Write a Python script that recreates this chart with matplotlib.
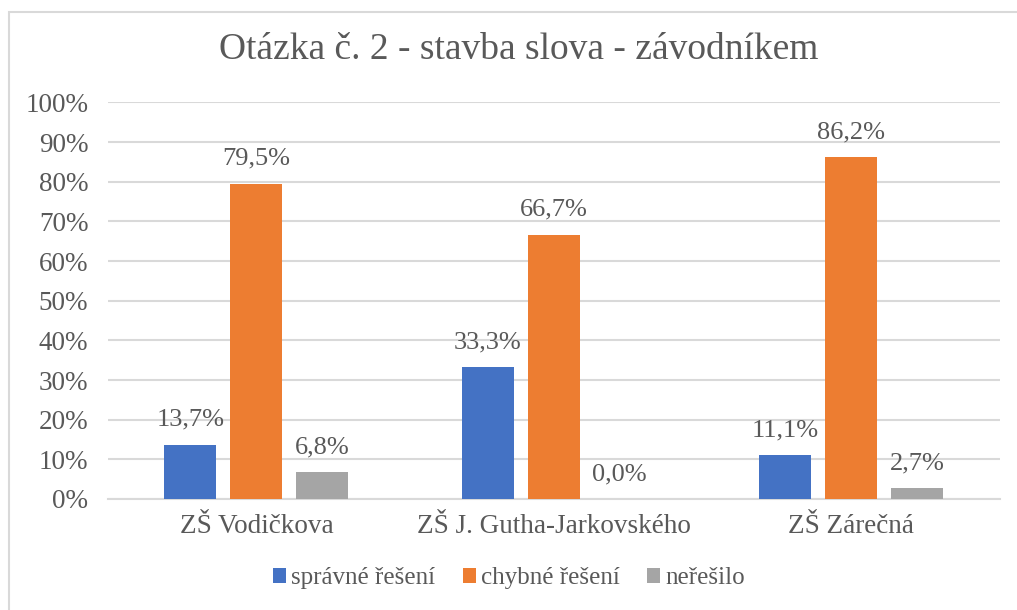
import matplotlib.pyplot as plt
import numpy as np
from matplotlib.patches import Rectangle

categories = ["ZŠ Vodičkova", "ZŠ J. Gutha-Jarkovského", "ZŠ Zárečná"]
series_names = ["správné řešení", "chybné řešení", "neřešilo"]
spravne = [13.7, 33.3, 11.1]
chybne = [79.5, 66.7, 86.2]
neresilo = [6.8, 0.0, 2.7]
colors = ["#4472C4", "#ED7D31", "#A5A5A5"]
yticks = [0, 10, 20, 30, 40, 50, 60, 70, 80, 90, 100]

plt.rcParams["font.family"] = ["Liberation Serif", "DejaVu Serif"]
TXT = "#595959"

fig = plt.figure(figsize=(10.17, 6.10), dpi=100)
ax = fig.add_axes([0.106, 0.182, 0.877, 0.650])

x = np.arange(len(categories))
width = 0.175
step = 0.222
for i, (name, vals, col) in enumerate(zip(series_names, [spravne, chybne, neresilo], colors)):
    pos = x + (i - 1) * step
    ax.bar(pos, vals, width=width, color=col, label=name, zorder=3)
    for px, v in zip(pos, vals):
        ax.annotate(f"{v:.1f}%".replace(".", ","), (px, v), xytext=(0, 10),
                    textcoords="offset points", ha="center", va="bottom",
                    fontsize=19, color=TXT)

ax.set_xlim(-0.5, 2.5)
ax.set_ylim(0, 100)
ax.set_yticks(yticks)
ax.set_yticklabels([f"{t}%" for t in yticks])
ax.set_xticks(x)
ax.set_xticklabels(categories)
ax.tick_params(axis="both", length=0, labelsize=19.5, labelcolor=TXT)
ax.tick_params(axis="y", pad=14)
ax.tick_params(axis="x", pad=11)
ax.grid(axis="y", color="#D9D9D9", linewidth=1.5, zorder=0)
for s in ["top", "right", "left"]:
    ax.spines[s].set_visible(False)
ax.spines["bottom"].set_color("#D9D9D9")
ax.spines["bottom"].set_linewidth(1.5)

fig.text(0.510, 0.918, "Otázka č. 2 - stavba slova - závodníkem", ha="center",
         va="center", fontsize=27, color=TXT)

fig.legend(loc="center", bbox_to_anchor=(0.5005, 0.052), ncol=3, frameon=False,
           fontsize=18, labelcolor=TXT, handlelength=0.52, handleheight=0.52,
           handletextpad=0.2, columnspacing=1.1)

fig.patches.append(Rectangle((0.009, -0.05), 1.1, 1.03, transform=fig.transFigure,
                             fill=False, edgecolor="#D9D9D9", linewidth=1.5))

fig.savefig("out.png", dpi=100)
